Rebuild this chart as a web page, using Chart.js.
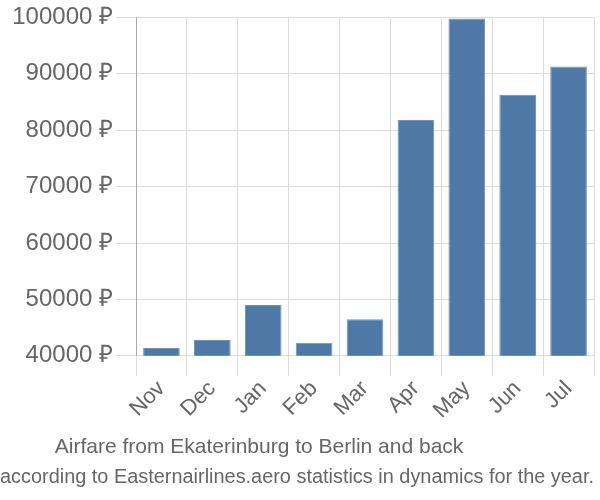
<!DOCTYPE html>
<html>
<head>
<meta charset="utf-8">
<script src="https://cdn.jsdelivr.net/npm/chart.js@4"></script>
<style>
  html, body { margin: 0; padding: 0; background: #fff; }
  #wrap { width: 600px; height: 500px; }
</style>
</head>
<body>
<div id="wrap"><canvas id="airfareChart"></canvas></div>
<script>
// Data
const months = ['Nov', 'Dec', 'Jan', 'Feb', 'Mar', 'Apr', 'May', 'Jun', 'Jul'];
const prices = [41400, 42800, 49000, 42300, 46500, 81800, 99800, 86300, 91300];
const yTicks = [40000, 50000, 60000, 70000, 80000, 90000, 100000];

Chart.defaults.font.family = '"Liberation Sans", Arial, sans-serif';
Chart.defaults.color = '#666';

// trailing spaces push the centred title a bit left, like the original
const titleText = 'Airfare from Ekaterinburg to Berlin and back' + ' '.repeat(13);

const ctx = document.getElementById('airfareChart').getContext('2d');
const airfareChart = new Chart(ctx, {
  type: 'bar',
  data: {
    labels: months,
    datasets: [{
      data: prices,
      backgroundColor: '#4e79a7',
      borderColor: '#6f93bb',
      borderWidth: 1,
      barPercentage: 0.72,
      categoryPercentage: 1
    }]
  },
  options: {
    responsive: true,
    maintainAspectRatio: false,
    animation: false,
    layout: { padding: { top: 0, right: 6, left: 0, bottom: 0 } },
    plugins: {
      legend: { display: false },
      tooltip: { enabled: false },
      title: {
        display: true,
        position: 'bottom',
        weight: 1000,
        text: titleText,
        font: { size: 21, weight: 'normal' },
        color: '#666',
        padding: { top: 8, bottom: 3 }
      },
      subtitle: {
        display: true,
        position: 'bottom',
        text: 'according to Easternairlines.aero statistics in dynamics for the year.',
        font: { size: 20, weight: 'normal' },
        color: '#666',
        padding: { top: 2, bottom: 11 }
      }
    },
    scales: {
      x: {
        afterFit: axis => { axis.height = 71; },
        grid: { color: '#ddd', lineWidth: 1, tickLength: 20 },
        border: { color: '#ddd' },
        ticks: { font: { size: 22 }, color: '#666', maxRotation: 45, minRotation: 45, padding: 0 }
      },
      y: {
        min: yTicks[0],
        max: yTicks[yTicks.length - 1],
        afterBuildTicks: axis => { axis.ticks = yTicks.map(v => ({ value: v })); },
        afterFit: axis => { axis.width = 136; },
        grid: { color: '#ddd', lineWidth: 1, tickLength: 20 },
        border: { color: '#aaa', width: 1 },
        ticks: {
          font: { size: 24 },
          color: '#666',
          padding: 3,
          callback: v => v + ' ₽'
        }
      }
    }
  }
});
</script>
</body>
</html>
